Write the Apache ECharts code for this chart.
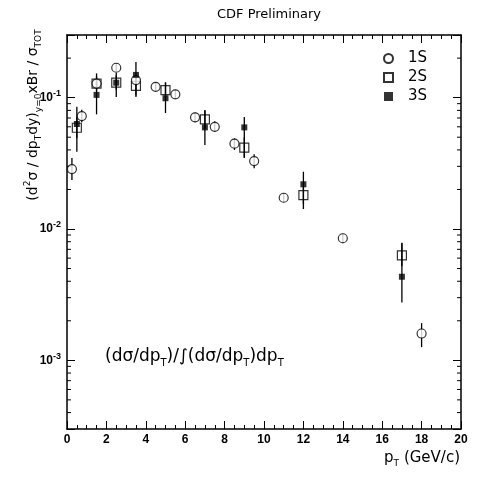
<!DOCTYPE html>
<html><head><meta charset="utf-8">
<script src="https://cdn.jsdelivr.net/npm/echarts@6/dist/echarts.min.js"></script>
<style>html,body{margin:0;padding:0;background:#fff}#c{width:477px;height:481px}</style>
</head><body><div id="c"></div>
<script>
// ---- data ----
const pt1S  = [0.25, 0.75, 1.5, 2.5, 3.5, 4.5, 5.5, 6.5, 7.5, 8.5, 9.5, 11, 14, 18];
const val1S = [0.0286, 0.0724, 0.128, 0.169, 0.136, 0.121, 0.106, 0.0708, 0.060, 0.0446, 0.0329, 0.0173, 0.0085, 0.0016];
const lo1S  = [0.0236, 0.065, 0.118, 0.156, 0.125, 0.112, 0.098, 0.065, 0.055, 0.040, 0.029, 0.0160, 0.0078, 0.00126];
const hi1S  = [0.0347, 0.081, 0.139, 0.184, 0.148, 0.131, 0.115, 0.077, 0.066, 0.049, 0.037, 0.0188, 0.0092, 0.00192];

const pt2S  = [0.5, 1.5, 2.5, 3.5, 5, 7, 9, 12, 17];
const val2S = [0.059, 0.128, 0.130, 0.123, 0.114, 0.0684, 0.0416, 0.0181, 0.0063];
const lo2S  = [0.049, 0.113, 0.115, 0.104, 0.100, 0.058, 0.035, 0.0155, 0.0052];
const hi2S  = [0.071, 0.145, 0.148, 0.145, 0.130, 0.080, 0.050, 0.0210, 0.0078];

const pt3S  = [0.5, 1.5, 2.5, 3.5, 5, 7, 9, 12, 17];
const val3S = [0.063, 0.105, 0.130, 0.149, 0.099, 0.0594, 0.0594, 0.0219, 0.00433];
const lo3S  = [0.0387, 0.0746, 0.101, 0.101, 0.0764, 0.0436, 0.0347, 0.0142, 0.00276];
const hi3S  = [0.0853, 0.153, 0.154, 0.187, 0.131, 0.0805, 0.0712, 0.0273, 0.00785];

const yMinorTicks = [4e-4, 5e-4, 6e-4, 7e-4, 8e-4, 9e-4,
                     2e-3, 3e-3, 4e-3, 5e-3, 6e-3, 7e-3, 8e-3, 9e-3,
                     2e-2, 3e-2, 4e-2, 5e-2, 6e-2, 7e-2, 8e-2, 9e-2,
                     0.2];
const seriesNames = ['1S', '2S', '3S'];

// ---- chart ----
const FONT = 'DejaVu Sans';
const chart = echarts.init(document.getElementById('c'), null, {renderer: 'canvas'});

function errData(pt, lo, hi) { return pt.map((x, i) => [x, lo[i], hi[i]]); }
function errSeries(pt, lo, hi) {
  return {
    type: 'custom', silent: true, z: 2,
    xAxisIndex: 0, yAxisIndex: 0,
    encode: {x: 0, y: [1, 2]},
    data: errData(pt, lo, hi),
    renderItem: function (params, api) {
      const a = api.coord([api.value(0), api.value(1)]);
      const b = api.coord([api.value(0), api.value(2)]);
      return {type: 'line', shape: {x1: a[0], y1: a[1], x2: b[0], y2: b[1]},
              style: {stroke: '#000', lineWidth: 1.3}};
    }
  };
}

const axisLineStyle = {show: true, onZero: false, lineStyle: {color: '#000', width: 1.5}};

const option = {
  animation: false,
  backgroundColor: '#fff',
  grid: {left: 67, right: 16, top: 35, bottom: 52},
  legend: {
    data: seriesNames,
    orient: 'vertical', left: 378, top: 46,
    itemWidth: 9, itemHeight: 9, itemGap: 4,
    selectedMode: false,
    textStyle: {fontFamily: FONT, fontSize: 15, color: '#000', padding: [0, 0, 0, 10]}
  },
  xAxis: [
    {type: 'value', min: 0, max: 20, interval: 2, position: 'bottom',
     axisLine: axisLineStyle,
     axisTick: {inside: true, length: 8, lineStyle: {color: '#000', width: 1}},
     minorTick: {show: true, splitNumber: 4, length: 4, lineStyle: {color: '#000', width: 1}},
     axisLabel: {color: '#000', fontSize: 12, fontWeight: 'bold', fontFamily: 'Liberation Sans', margin: 5},
     splitLine: {show: false}, minorSplitLine: {show: false}},
    {type: 'value', min: 0, max: 20, interval: 2, position: 'top',
     axisLine: axisLineStyle,
     axisTick: {inside: true, length: 8, lineStyle: {color: '#000', width: 1}},
     minorTick: {show: true, splitNumber: 4, length: 4, lineStyle: {color: '#000', width: 1}},
     axisLabel: {show: false}, splitLine: {show: false}}
  ],
  yAxis: [
    {type: 'log', logBase: 10, min: 3e-4, max: 0.3, position: 'left',
     axisLine: axisLineStyle,
     axisTick: {inside: true, length: 8, lineStyle: {color: '#000', width: 1}},
     axisLabel: {
       margin: 6,
       formatter: function (v) {
         const e = Math.log10(v), r = Math.round(e);
         if (Math.abs(e - r) > 1e-6) return '';
         return '{b|10}{s|' + r + '}';
       },
       rich: {
         b: {fontSize: 12, fontWeight: 'bold', fontFamily: 'Liberation Sans', color: '#000', lineHeight: 17},
         s: {fontSize: 9, fontWeight: 'bold', fontFamily: 'Liberation Sans', color: '#000', verticalAlign: 'top'}
       }
     },
     splitLine: {show: false}},
    {type: 'log', logBase: 10, min: 3e-4, max: 0.3, position: 'right',
     axisLine: axisLineStyle,
     axisTick: {inside: true, length: 8, lineStyle: {color: '#000', width: 1}},
     axisLabel: {show: false}, splitLine: {show: false}}
  ],
  series: [
    {
      type: 'custom', silent: true, z: 2, xAxisIndex: 0, yAxisIndex: 0,
      encode: {x: 0, y: 1},
      data: yMinorTicks.map(v => [0, v]),
      renderItem: function (params, api) {
        const v = api.value(1);
        const a = api.coord([0, v]);
        const b = api.coord([20, v]);
        return {type: 'group', children: [
          {type: 'line', shape: {x1: a[0], y1: a[1], x2: a[0] + 4, y2: a[1]}, style: {stroke: '#000', lineWidth: 1}},
          {type: 'line', shape: {x1: b[0] - 4, y1: b[1], x2: b[0], y2: b[1]}, style: {stroke: '#000', lineWidth: 1}}
        ]};
      }
    },
    errSeries(pt1S, lo1S, hi1S),
    errSeries(pt2S, lo2S, hi2S),
    errSeries(pt3S, lo3S, hi3S),
    {name: '2S', type: 'scatter', z: 3, symbol: 'rect', symbolSize: 9,
     itemStyle: {color: 'rgba(255,255,255,0)', borderColor: '#000', borderWidth: 1.2},
     data: pt2S.map((x, i) => [x, val2S[i]])},
    {name: '1S', type: 'scatter', z: 4, symbol: 'circle', symbolSize: 9,
     itemStyle: {color: '#fff', borderColor: '#000', borderWidth: 1.2},
     data: pt1S.map((x, i) => [x, val1S[i]])},
    {name: '3S', type: 'scatter', z: 5, symbol: 'rect', symbolSize: 6,
     itemStyle: {color: '#000', borderColor: '#000', borderWidth: 0},
     data: pt3S.map((x, i) => [x, val3S[i]])}
  ],
  graphic: [
    {type: 'text', x: 269, y: 15, silent: true,
     style: {text: 'CDF Preliminary', fontFamily: FONT, fontSize: 13, fill: '#000', align: 'center', verticalAlign: 'middle'}},
    {type: 'text', x: 33, y: 115, rotation: Math.PI / 2, silent: true,
     style: {
       text: '{n|(d}{sup|2}{n|σ / dp}{sub|T}{n|dy)}{sub|y=0}{n|xBr / σ}{sub|TOT}',
       align: 'center', verticalAlign: 'middle',
       rich: {
         n: {fontFamily: FONT, fontSize: 14, lineHeight: 20, fill: '#000'},
         sup: {fontFamily: FONT, fontSize: 9, verticalAlign: 'top', fill: '#000'},
         sub: {fontFamily: FONT, fontSize: 9, verticalAlign: 'bottom', fill: '#000'}
       }
     }},
    {type: 'text', x: 460, y: 458, silent: true,
     style: {
       text: '{n|p}{sub|T}{n| (GeV/c)}',
       align: 'right', verticalAlign: 'middle',
       rich: {
         n: {fontFamily: FONT, fontSize: 15, lineHeight: 20, fill: '#000'},
         sub: {fontFamily: FONT, fontSize: 9, verticalAlign: 'bottom', fill: '#000'}
       }
     }},
    {type: 'text', x: 105, y: 357, silent: true,
     style: {
       text: '{n|(dσ/dp}{sub|T}{n|)/∫(dσ/dp}{sub|T}{n|)dp}{sub|T}',
       align: 'left', verticalAlign: 'middle',
       rich: {
         n: {fontFamily: FONT, fontSize: 17, lineHeight: 23, fill: '#000'},
         sub: {fontFamily: FONT, fontSize: 10, verticalAlign: 'bottom', fill: '#000'}
       }
     }}
  ]
};
chart.setOption(option);
</script>
</body></html>
